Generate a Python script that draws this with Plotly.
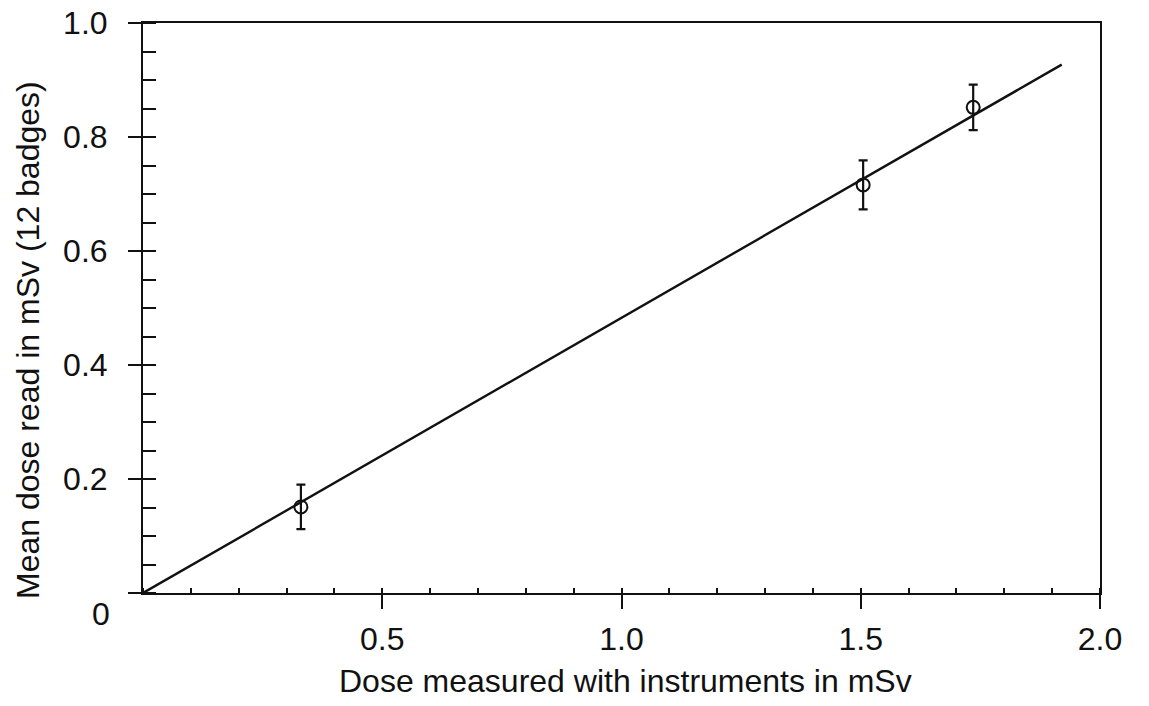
import plotly.graph_objects as go

# Dose measured with instruments (mSv) vs mean dose read from 12 badges (mSv)
dose_instruments = [0.33, 1.505, 1.735]
dose_badges = [0.151, 0.716, 0.852]
dose_error = [0.039, 0.043, 0.040]

# Fitted straight line through the origin
fit_x = [0.0, 1.92]
fit_y = [0.0, 0.927]

x_ticks = [0.5, 1.0, 1.5, 2.0]
x_tick_text = ["0.5", "1.0", "1.5", "2.0"]
y_ticks = [0.0, 0.2, 0.4, 0.6, 0.8, 1.0]
y_tick_text = [" ", "0.2", "0.4", "0.6", "0.8", "1.0"]

FONT = "Liberation Sans, Arial, Helvetica, sans-serif"
INK = "#111111"
SIZE = 32

fig = go.Figure()

fig.add_trace(go.Scatter(
    x=fit_x, y=fit_y, mode="lines",
    line=dict(color=INK, width=2.4),
    showlegend=False, hoverinfo="skip",
))

fig.add_trace(go.Scatter(
    x=dose_instruments, y=dose_badges, mode="markers",
    marker=dict(symbol="circle-open", size=13, color=INK, line=dict(width=2, color=INK)),
    error_y=dict(type="data", array=dose_error, visible=True,
                 color=INK, thickness=2.2, width=4.5),
    showlegend=False,
))

common = dict(
    showgrid=False, zeroline=False, showline=True, linecolor=INK, linewidth=2,
    mirror=True, automargin=False,
)

fig.update_layout(
    width=1149, height=706,
    margin=dict(l=143, r=49, t=23, b=113, autoexpand=False),
    paper_bgcolor="white", plot_bgcolor="white",
    font=dict(family=FONT, size=SIZE, color=INK),
    xaxis=dict(
        range=[0, 2.0], tickmode="array", tickvals=x_ticks, ticktext=x_tick_text,
        ticks="outside", ticklen=14, tickwidth=2, tickcolor=INK,
        ticklabelstandoff=3, tickfont=dict(family=FONT, size=SIZE, color=INK),
        minor=dict(dtick=0.1, tick0=0, ticks="inside", ticklen=5, tickwidth=1.5, tickcolor=INK),
        **common,
    ),
    yaxis=dict(
        range=[0, 1.0], tickmode="array", tickvals=y_ticks, ticktext=y_tick_text,
        ticks="outside", ticklen=13, tickwidth=2, tickcolor=INK,
        ticklabelstandoff=14, tickfont=dict(family=FONT, size=SIZE, color=INK),
        minor=dict(dtick=0.05, tick0=0, ticks="inside", ticklen=13, tickwidth=1.5, tickcolor=INK),
        **common,
    ),
    # overlay axes carry the inner half of the major ticks
    xaxis2=dict(
        overlaying="x", anchor="y", side="bottom", range=[0, 2.0],
        tickmode="array", tickvals=x_ticks, ticks="inside", ticklen=13,
        tickwidth=2, tickcolor=INK, showticklabels=False,
        showgrid=False, zeroline=False, showline=False, automargin=False,
    ),
    yaxis2=dict(
        overlaying="y", anchor="x", side="left", range=[0, 1.0],
        tickmode="array", tickvals=y_ticks[1:], ticks="inside", ticklen=11,
        tickwidth=2, tickcolor=INK, showticklabels=False,
        showgrid=False, zeroline=False, showline=False, automargin=False,
    ),
)

# Shared origin label
fig.add_annotation(text="0", xref="paper", yref="paper", x=0, y=0,
                   xshift=-42, yshift=-21, xanchor="center", yanchor="middle",
                   showarrow=False,
                   font=dict(family=FONT, size=SIZE, color=INK))

# Axis titles
fig.add_annotation(text="Dose measured with instruments in mSv",
                   xref="paper", yref="paper", x=0.504, y=0, yshift=-88,
                   xanchor="center", yanchor="middle", showarrow=False,
                   font=dict(family=FONT, size=SIZE, color=INK))
fig.add_annotation(text="Mean dose read in mSv (12 badges)",
                   xref="paper", yref="paper", x=0, y=0.444, xshift=-115,
                   xanchor="center", yanchor="middle", textangle=-90, showarrow=False,
                   font=dict(family=FONT, size=SIZE, color=INK))

fig.write_html("out.html")
